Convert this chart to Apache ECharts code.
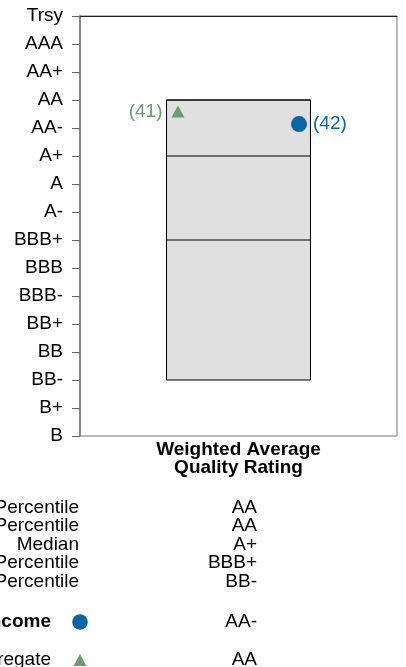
<!DOCTYPE html>
<html>
<head>
<meta charset="utf-8">
<style>
  html, body { margin: 0; padding: 0; background: #fff; }
  #main { width: 406px; height: 667px; }
</style>
<script src="https://cdn.jsdelivr.net/npm/echarts@6/dist/echarts.min.js"></script>
</head>
<body>
<div id="main"></div>
<script>
// rating scale, top to bottom
var ratings = ['Trsy', 'AAA', 'AA+', 'AA', 'AA-', 'A+', 'A', 'A-', 'BBB+', 'BBB', 'BBB-', 'BB+', 'BB', 'BB-', 'B+', 'B'];
var category = ['Weighted Average\nQuality Rating'];

// percentile bar (index into ratings)
var pctLabels = ['10th Percentile', '25th Percentile', 'Median', '75th Percentile', '90th Percentile'];
var pctValues = [3, 3, 5, 8, 13];

// plotted portfolios
var fundName = 'Core Fixed Income';
var fundValue = 3.86;
var fundRank = 42;
var benchName = 'Blmbg Aggregate';
var benchValue = 3.41;
var benchRank = 41;

var font = 'Liberation Sans, Arial, sans-serif';
var blue = '#0966a2';
var green = '#6a9d6b';

function ratingOf(v) {
    return ratings[Math.round(v)];
}

function txt(x, y, s, weight) {
    return {
        type: 'text', x: x, y: y,
        style: {
            text: s, font: (weight || 'normal') + ' 19px ' + font,
            fill: '#000', align: 'right', verticalAlign: 'middle'
        }
    };
}

var graphics = [];
var rowY = [507.5, 526, 544.5, 563, 581.5];
pctLabels.forEach(function (lab, i) {
    graphics.push(txt(79, rowY[i], lab));
    graphics.push(txt(257, rowY[i], ratingOf(pctValues[i])));
});
graphics.push(txt(51, 622, fundName, 'bold'));
graphics.push({ type: 'circle', shape: { cx: 80, cy: 622, r: 7.8 }, style: { fill: blue } });
graphics.push(txt(257, 622, ratingOf(fundValue)));
graphics.push(txt(51, 660, benchName));
graphics.push({ type: 'polygon', shape: { points: [[80, 654], [86.5, 666], [73.5, 666]] }, style: { fill: green } });
graphics.push(txt(257, 660, ratingOf(benchValue)));

var option = {
    animation: false,
    backgroundColor: '#fff',
    grid: {
        left: 80, right: 9, top: 16, bottom: 231,
        show: true, borderColor: '#777', borderWidth: 1, backgroundColor: 'transparent'
    },
    xAxis: {
        type: 'category',
        data: category,
        axisTick: { show: false },
        axisLine: { lineStyle: { color: '#222', width: 1 } },
        axisLabel: {
            color: '#000', fontFamily: font, fontWeight: 'bold', fontSize: 19,
            lineHeight: 18, margin: 5
        }
    },
    yAxis: {
        type: 'value',
        min: 0, max: 15, interval: 1,
        inverse: true,
        splitLine: { show: false },
        axisLine: { show: true, lineStyle: { color: '#888', width: 2 } },
        axisTick: { show: true, length: 8, lineStyle: { color: '#666' } },
        axisLabel: {
            color: '#000', fontFamily: font, fontSize: 19, margin: 17,
            formatter: function (v) { return ratings[v]; }
        }
    },
    series: [{
        type: 'custom',
        data: [[0].concat(pctValues)],
        encode: { x: 0, y: [1, 5] },
        z: 2,
        renderItem: function (params, api) {
            var top = api.coord([api.value(0), api.value(1)]);
            var bot = api.coord([api.value(0), api.value(5)]);
            var w = api.size([1, 0])[0] * 0.454;
            var x0 = top[0] - w / 2;
            var children = [{
                type: 'rect',
                shape: { x: x0, y: top[1], width: w, height: bot[1] - top[1] },
                style: { fill: '#e0e0e0', stroke: '#000', lineWidth: 1 }
            }];
            [2, 3, 4].forEach(function (k) {
                var y = api.coord([api.value(0), api.value(k)])[1];
                children.push({
                    type: 'line',
                    shape: { x1: x0, y1: y, x2: x0 + w, y2: y },
                    style: { stroke: '#000', lineWidth: 1 }
                });
            });
            return { type: 'group', children: children };
        }
    }, {
        type: 'scatter',
        data: [[0, benchValue]],
        symbol: 'triangle',
        symbolSize: [13, 12],
        symbolOffset: [-60.5, 0],
        itemStyle: { color: green, opacity: 1 },
        z: 5,
        label: {
            show: true, position: 'left', distance: 9,
            formatter: '(' + benchRank + ')',
            color: green, fontFamily: font, fontSize: 19
        }
    }, {
        type: 'scatter',
        data: [[0, fundValue]],
        symbol: 'circle',
        symbolSize: 16,
        symbolOffset: [60.5, 0],
        itemStyle: { color: blue, opacity: 1 },
        z: 5,
        label: {
            show: true, position: 'right', distance: 6,
            formatter: '(' + fundRank + ')',
            color: blue, fontFamily: font, fontSize: 19
        }
    }],
    graphic: graphics
};

var myChart = echarts.init(document.getElementById('main'));
myChart.setOption(option);
</script>
</body>
</html>
